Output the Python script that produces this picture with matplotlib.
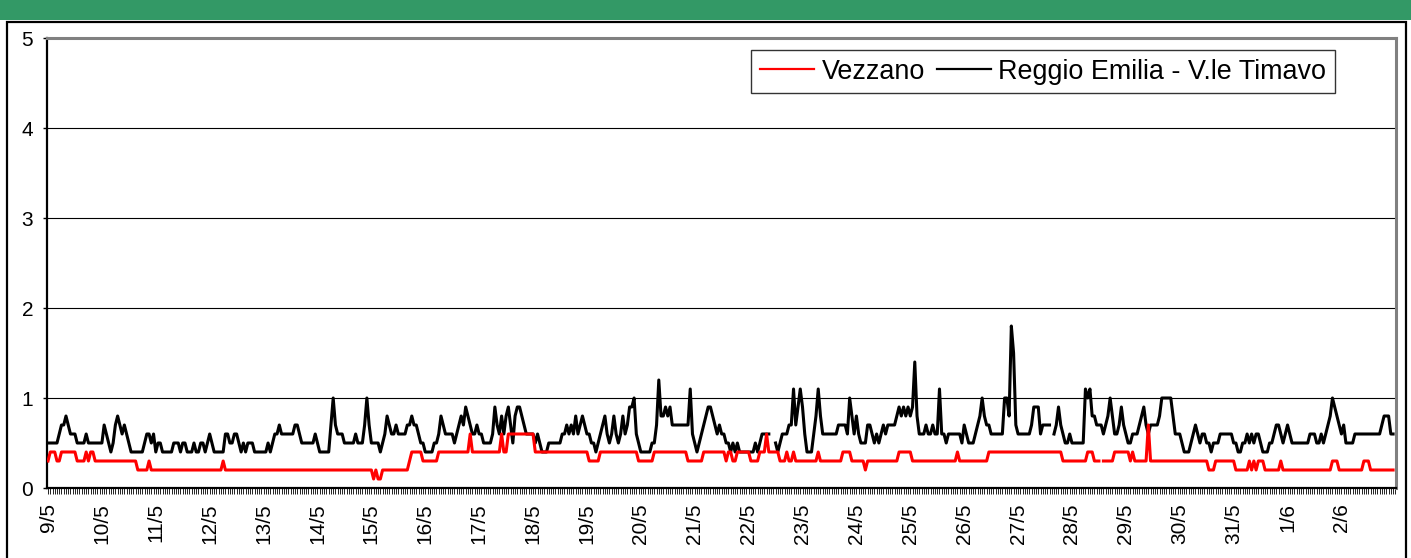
import numpy as np
import matplotlib.pyplot as plt
from matplotlib.patches import Rectangle

plt.rcParams['font.family'] = ['Liberation Sans', 'DejaVu Sans']

nan = np.nan

# etichette asse x, una ogni 24 ore
giorni = ["9/5", "10/5", "11/5", "12/5", "13/5", "14/5", "15/5", "16/5", "17/5",
          "18/5", "19/5", "20/5", "21/5", "22/5", "23/5", "24/5", "25/5", "26/5",
          "27/5", "28/5", "29/5", "30/5", "31/5", "1/6", "2/6"]

# Reggio Emilia - V.le Timavo, medie orarie in decimi (una riga per giorno)
reggio = [
    [5,5,5,5,5,6,7,7,8,7,6,6,6,5,5,5,5,6,5,5,5,5,5,5],
    [5,7,6,5,4,5,7,8,7,6,7,6,5,4,4,4,4,4,4,5,6,6,5,6],
    [4,5,5,4,4,4,4,4,5,5,5,4,5,5,4,4,4,5,4,4,5,5,4,5],
    [6,5,4,4,4,4,4,6,6,5,5,6,6,5,4,5,4,5,5,5,4,4,4,4],
    [4,4,5,4,5,6,6,7,6,6,6,6,6,6,7,7,6,5,5,5,5,5,5,6],
    [5,4,4,4,4,4,7,10,7,6,6,6,5,5,5,5,5,6,5,5,5,7,10,7],
    [5,5,5,5,4,5,6,8,7,6,6,7,6,6,6,6,7,7,8,7,7,6,5,5],
    [4,4,4,4,5,5,6,8,7,6,6,6,6,5,6,7,8,7,9,8,7,6,6,7],
    [6,6,5,5,5,5,6,9,7,6,8,6,8,9,7,5,8,9,9,8,7,6,6,6],
    [6,5,6,5,4,4,4,5,5,5,5,5,5,6,6,7,6,7,6,8,6,7,8,7],
    [6,6,5,5,4,5,6,7,8,6,5,6,8,6,5,6,8,6,7,9,9,10,6,5],
    [4,4,4,4,4,5,5,7,12,8,8,9,8,9,7,7,7,7,7,7,7,7,11,6],
    [5,4,5,6,7,8,9,9,8,7,6,7,6,6,5,5,4,5,4,5,4,4,4,4],
    [4,4,4,5,4,5,6,6,6,6,nan,nan,5,4,5,6,6,6,7,7,11,7,9,11],
    [9,6,4,4,4,6,8,11,8,6,6,6,6,6,6,6,7,7,7,7,6,10,8,6],
    [8,6,5,5,5,7,7,6,5,6,5,6,7,6,7,7,7,7,8,9,8,9,8,9],
    [8,9,14,8,6,6,6,7,6,6,7,6,6,11,6,6,5,6,6,6,6,6,6,5],
    [7,6,5,5,5,6,7,8,10,8,7,7,6,6,6,6,6,6,10,10,8,18,15,7],
    [6,6,6,6,6,6,7,9,9,9,6,7,7,7,7,nan,6,7,9,7,6,5,5,6],
    [5,5,5,5,5,5,11,10,11,8,8,7,7,7,6,7,8,10,8,6,6,7,9,7],
    [6,5,5,6,6,6,7,8,9,7,6,7,7,7,7,8,10,10,10,10,10,8,6,6],
    [6,5,4,4,4,5,6,7,6,5,6,6,5,5,4,5,5,5,6,6,6,6,6,6],
    [5,5,4,4,5,5,6,5,6,5,6,6,5,4,4,4,5,5,6,7,7,6,5,6],
    [7,6,5,5,5,5,5,5,5,5,6,6,6,5,5,6,5,6,7,8,10,9,8,7],
    [6,7,5,5,5,5,6,6,6,6,6,6,6,6,6,6,6,6,7,8,8,8,6,6],
]

# Vezzano, medie orarie in decimi
vezzano = [
    [3,4,4,4,3,3,4,4,4,4,4,4,4,3,3,3,3,4,3,4,4,3,3,3],
    [3,3,3,3,3,3,3,3,3,3,3,3,3,3,3,3,2,2,2,2,2,3,2,2],
    [2,2,2,2,2,2,2,2,2,2,2,2,2,2,2,2,2,2,2,2,2,2,2,2],
    [2,2,2,2,2,2,3,2,2,2,2,2,2,2,2,2,2,2,2,2,2,2,2,2],
    [2,2,2,2,2,2,2,2,2,2,2,2,2,2,2,2,2,2,2,2,2,2,2,2],
    [2,2,2,2,2,2,2,2,2,2,2,2,2,2,2,2,2,2,2,2,2,2,2,2],
    [2,1,2,1,1,2,2,2,2,2,2,2,2,2,2,2,2,3,4,4,4,4,4,3],
    [3,3,3,3,3,3,4,4,4,4,4,4,4,4,4,4,4,4,4,4,6,4,4,4],
    [4,4,4,4,4,4,4,4,4,4,6,4,4,6,6,6,6,6,6,6,6,6,6,6],
    [6,4,4,4,4,4,4,4,4,4,4,4,4,4,4,4,4,4,4,4,4,4,4,4],
    [4,3,3,3,3,3,4,4,4,4,4,4,4,4,4,4,4,4,4,4,4,4,4,3],
    [3,3,3,3,3,3,4,4,4,4,4,4,4,4,4,4,4,4,4,4,4,3,3,3],
    [3,3,3,3,4,4,4,4,4,4,4,4,4,4,3,4,4,3,3,4,4,4,4,4],
    [4,3,3,3,3,4,4,4,6,4,4,4,4,4,3,3,3,4,3,3,4,3,3,3],
    [3,3,3,3,3,3,3,4,3,3,3,3,3,3,3,3,3,3,4,4,4,4,3,3],
    [3,3,3,3,2,3,3,3,3,3,3,3,3,3,3,3,3,3,3,4,4,4,4,4],
    [4,3,3,3,3,3,3,3,3,3,3,3,3,3,3,3,3,3,3,3,3,4,3,3],
    [3,3,3,3,3,3,3,3,3,3,3,4,4,4,4,4,4,4,4,4,4,4,4,4],
    [4,4,4,4,4,4,4,4,4,4,4,4,4,4,4,4,4,4,4,4,3,3,3,3],
    [3,3,3,3,3,3,3,4,4,4,3,3,3,nan,3,3,3,3,3,4,4,4,4,4],
    [4,4,3,4,3,3,3,3,3,3,7,3,3,3,3,3,3,3,3,3,3,3,3,3],
    [3,3,3,3,3,3,3,3,3,3,3,3,3,2,2,2,3,3,3,3,3,3,3,3],
    [3,2,2,2,2,2,2,3,2,3,2,3,3,3,2,2,2,2,2,2,2,3,2,2],
    [2,2,2,2,2,2,2,2,2,2,2,2,2,2,2,2,2,2,2,2,3,3,3,2],
    [2,2,2,2,2,2,2,2,2,2,3,3,3,2,2,2,2,2,2,2,2,2,2,2],
]

reggio_v = np.array([v for g in reggio for v in g], dtype=float) / 10
vezzano_v = np.array([v for g in vezzano for v in g], dtype=float) / 10
ore = np.arange(len(reggio_v))

W, H = 1411, 558
fig = plt.figure(figsize=(W / 100, H / 100), dpi=100)

# barra verde in alto e cornice del grafico
fig.patches.append(Rectangle((0, 1 - 20 / H), 1, 20 / H, transform=fig.transFigure,
                             facecolor='#339966', edgecolor='none'))
fig.patches.append(Rectangle((7 / W, -0.05), (1406 - 7) / W, 536.5 / H + 0.05,
                             transform=fig.transFigure, fill=False,
                             edgecolor='black', linewidth=1.6))

ax = fig.add_axes([47 / W, 1 - 488 / H, (1396 - 47) / W, (488 - 38) / H])

l_reg, = ax.plot(ore, reggio_v, color='black', lw=2.2, zorder=3)
l_vez, = ax.plot(ore, vezzano_v, color='red', lw=2.2, zorder=4)

ax.set_xlim(-0.45, 600.3)
ax.set_ylim(0, 5)
ax.set_yticks(range(6))
ax.yaxis.grid(True, color='black', lw=0.8)
ax.set_axisbelow(True)

ax.set_xticks(np.arange(0, 24 * len(giorni), 24))
ax.set_xticklabels(giorni, rotation=90, fontsize=15)
ax.set_xticks(np.arange(0, 601), minor=True)
ax.tick_params(axis='x', which='both', direction='out', length=4, width=0.6,
               color='black', pad=7)
ax.tick_params(axis='y', direction='out', length=3, width=1, labelsize=15, pad=7)

ax.spines['left'].set_color('black')
ax.spines['left'].set_linewidth(1.6)
ax.spines['bottom'].set_color('black')
ax.spines['bottom'].set_linewidth(1.6)
for s in ['top', 'right']:
    ax.spines[s].set_color('#808080')
    ax.spines[s].set_linewidth(2.2)

leg = ax.legend([l_vez, l_reg], ["Vezzano", "Reggio Emilia - V.le Timavo"],
                loc='upper right', bbox_to_anchor=(1335 / W, 1 - 50 / H),
                bbox_transform=fig.transFigure, ncol=2, fontsize=19.4,
                frameon=True, fancybox=False, shadow=False, borderpad=0.32,
                handlelength=2.0, handletextpad=0.28, columnspacing=0.45,
                borderaxespad=0)
leg.get_frame().set_edgecolor('black')
leg.get_frame().set_linewidth(1.0)
for lh in leg.get_lines():
    lh.set_linewidth(1.6)

fig.savefig("out.png", dpi=100)
